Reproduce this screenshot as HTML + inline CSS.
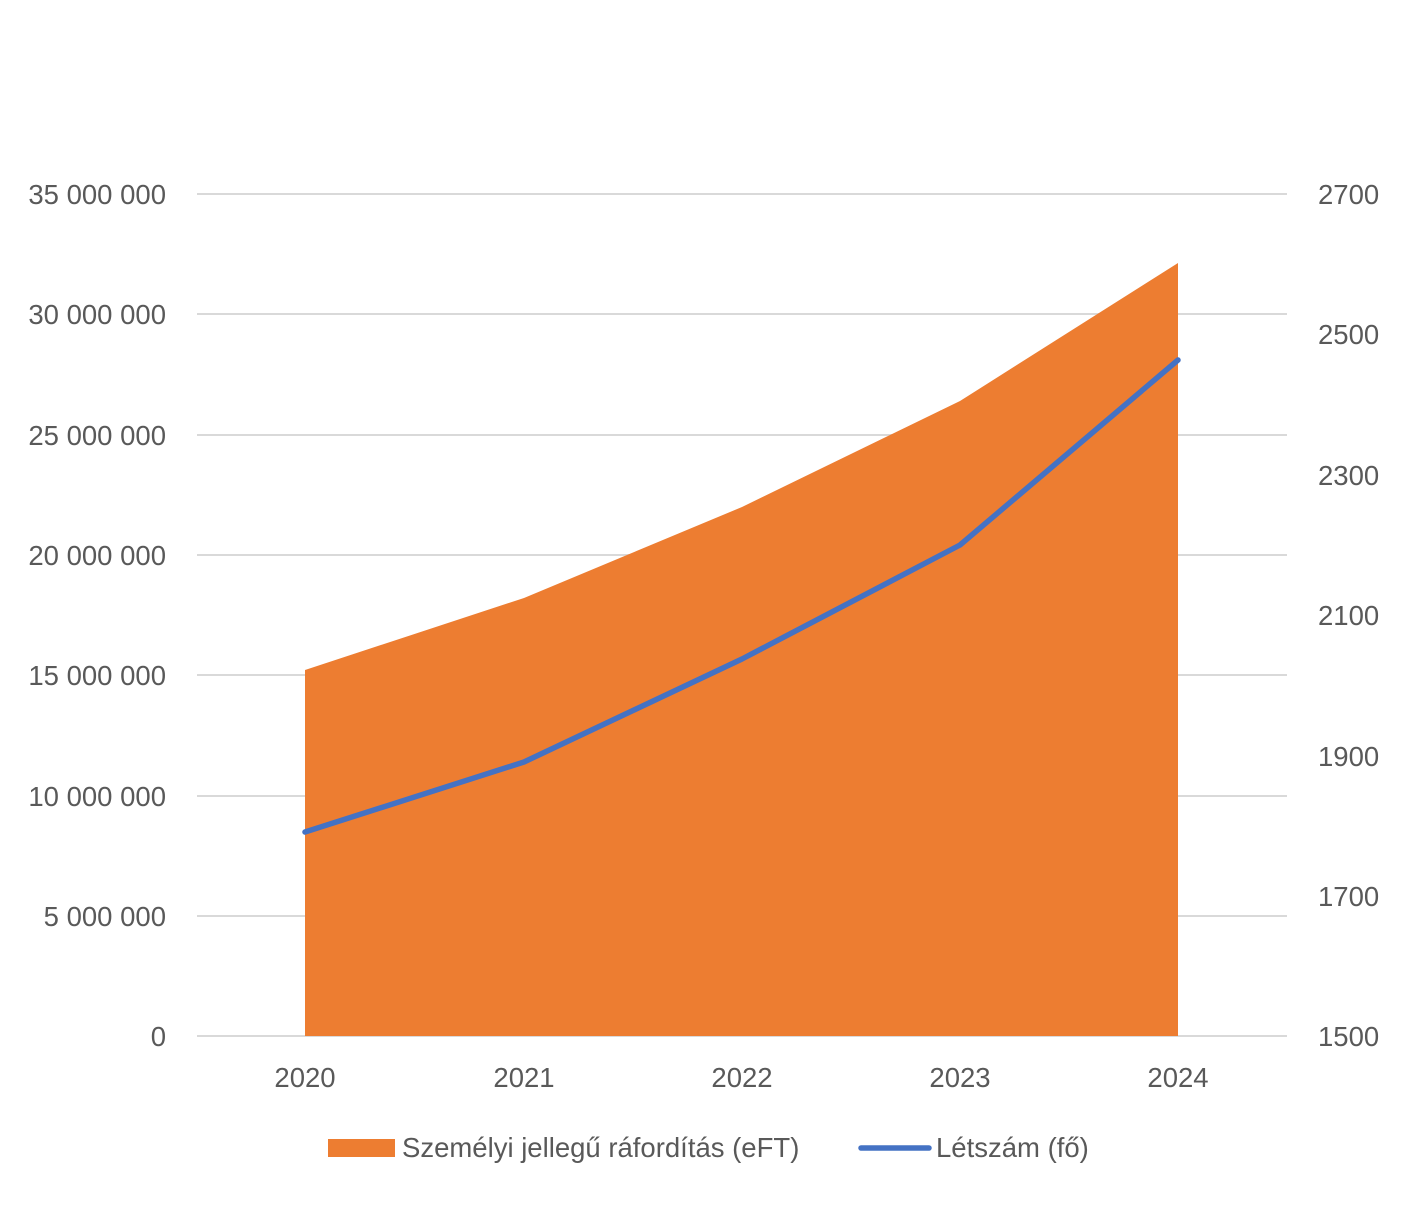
<!DOCTYPE html>
<html><head><meta charset="utf-8"><style>
body{margin:0;background:#fff}
svg text{font-family:"Liberation Sans",sans-serif;fill:#595959;font-size:27.5px}
</style></head><body>
<svg width="1405" height="1200" xmlns="http://www.w3.org/2000/svg">
<g stroke="#d9d9d9" stroke-width="2">
<line x1="197" x2="1287" y1="194" y2="194"/><line x1="197" x2="1287" y1="314" y2="314"/>
<line x1="197" x2="1287" y1="435" y2="435"/><line x1="197" x2="1287" y1="555" y2="555"/>
<line x1="197" x2="1287" y1="675" y2="675"/><line x1="197" x2="1287" y1="796" y2="796"/>
<line x1="197" x2="1287" y1="916" y2="916"/><line x1="197" x2="1287" y1="1036" y2="1036"/>
</g>
<polygon points="305,670 524,598 742,507 960,401 1178,263 1178,1036 305,1036" fill="#ED7D31"/>
<polyline points="305,832 524,762 742,659 960,545 1178,360" fill="none" stroke="#4472C4" stroke-width="5.5" stroke-linejoin="round" stroke-linecap="round"/>
<g text-anchor="end">
<text x="166" y="204">35 000 000</text><text x="166" y="324">30 000 000</text>
<text x="166" y="445">25 000 000</text><text x="166" y="565">20 000 000</text>
<text x="166" y="685">15 000 000</text><text x="166" y="806">10 000 000</text>
<text x="166" y="926">5 000 000</text><text x="166" y="1046">0</text>
</g>
<g>
<text x="1318" y="204">2700</text><text x="1318" y="344">2500</text>
<text x="1318" y="485">2300</text><text x="1318" y="625">2100</text>
<text x="1318" y="766">1900</text><text x="1318" y="906">1700</text>
<text x="1318" y="1046">1500</text>
</g>
<g text-anchor="middle">
<text x="305" y="1087">2020</text><text x="524" y="1087">2021</text>
<text x="742" y="1087">2022</text><text x="960" y="1087">2023</text>
<text x="1178" y="1087">2024</text>
</g>
<rect x="328" y="1139" width="67" height="18" fill="#ED7D31"/>
<text x="402" y="1157">Személyi jellegű ráfordítás (eFT)</text>
<line x1="861" x2="929" y1="1148" y2="1148" stroke="#4472C4" stroke-width="5.5" stroke-linecap="round"/>
<text x="936" y="1157">Létszám (fő)</text>
</svg>
</body></html>
